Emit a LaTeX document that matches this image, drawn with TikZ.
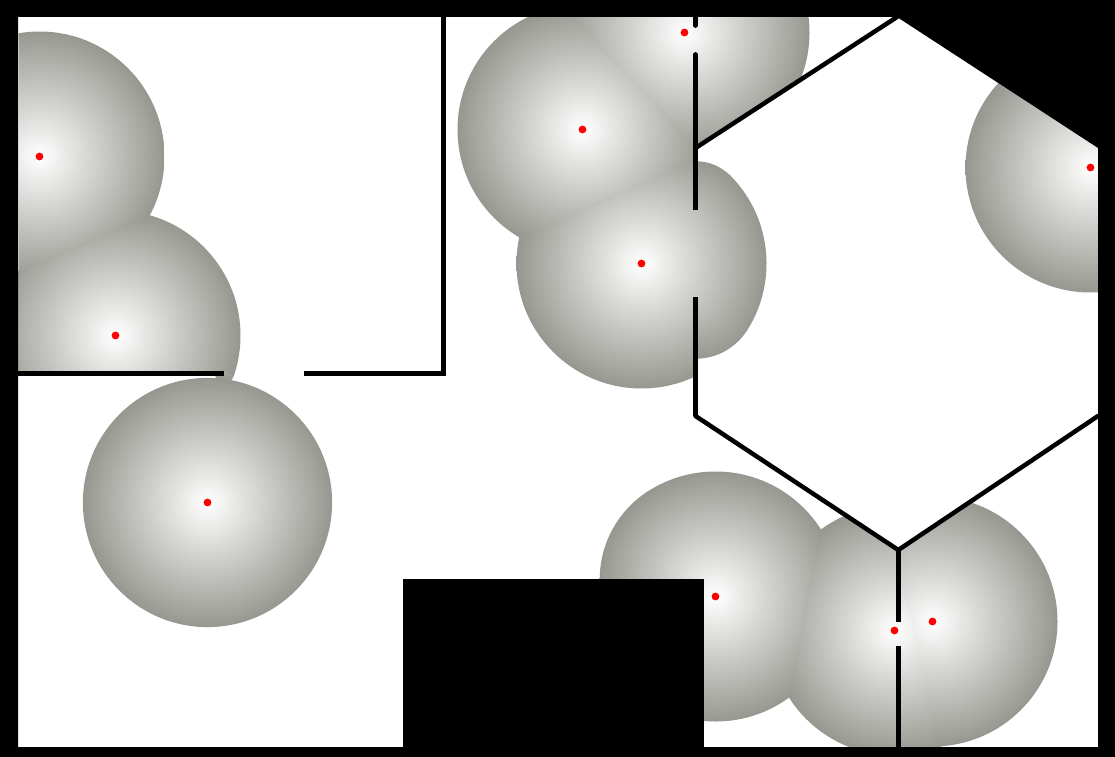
\documentclass[tikz,border=0pt]{standalone}
\definecolor{rimgray}{RGB}{150,152,144}
\definecolor{hotred}{RGB}{255,0,0}
% radial glow: colour depends on geodesic distance from the source (radius 125)
\newcommand{\defglow}[2]{\pgfdeclareradialshading{#1}{\pgfpointorigin}{color(0bp)=(rimgray!#2!white); color(25bp)=(rimgray); color(50bp)=(rimgray)}}
\defglow{glowzero}{0}
\defglow{glowa}{60.6}  % 75.7
\defglow{glowb}{51.0}  % 63.8
\defglow{glowc}{9.7}   % 12.1
\defglow{glowd}{19.0}  % 23.7
\defglow{glowe}{16.2}  % 20.2
\defglow{glowf}{7.2}   % 8.94
\defglow{glowg}{13.2}  % 16.5
\defglow{glowh}{92.3}  % 115.4
\newcommand{\glowpiece}[4]{\begin{scope}\clip #1 -- cycle;\shade[shading=#3] (#2) circle (#4);\end{scope}}
\tikzset{
  wall/.style={draw=black,line width=5bp,line cap=butt},
  thinwall/.style={draw=black,line width=4.5bp,line cap=round},
  roundwall/.style={draw=black,line width=5bp,line cap=round},
  reddot/.style={fill=hotred},
  solidblack/.style={fill=black}
}
\begin{document}
\begin{tikzpicture}[x=1bp,y=-1bp]
\useasboundingbox (0,0) rectangle (1115,757);
\fill[white] (0,0) rectangle (1115,757);
\begin{scope}[shift={(0.5,0.5)}]
% seed (39,156)
\glowpiece{(18,17)--(300,17)--(300,152.3)--(18,272)}{39,156}{glowzero}{125}
% seed (115,335)
\glowpiece{(18,270.5)--(300,150.8)--(300,399.5)--(224,373)--(18,373)}{115,335}{glowzero}{125}
\glowpiece{(224,373)--(240,378.6)--(240,390)--(210,390)--(210,373)}{224,373}{glowh}{9.6}
% seed (207,502)
\shade[shading=glowzero] (207,502) circle (124.6);
% seed (582,129)
\glowpiece{(400,0)--(558,0)--(695,143.9)--(695,161)--(400,291)}{582,129}{glowzero}{125}
% seed (684,32)
\glowpiece{(556.3,0)--(695,0)--(695,145.7)}{684,32}{glowzero}{125}
\glowpiece{(694.4,25.6)--(716.4,15)--(830,15)--(830,60.4)--(730.7,124.5)--(693.7,53.7)}{684,32}{glowzero}{125}
\glowpiece{(695,27)--(695,17)--(717,17)}{695,27}{glowc}{112.9}
\glowpiece{(695,53)--(732,123.8)--(695,148)}{695,53}{glowd}{101.3}
% seed (641,263)
\glowpiece{(400,289)--(695,159.2)--(694,209)--(799,106)--(800,106)--(800,365)--(799.2,364.3)--(694.2,298.3)--(695,420)--(400,420)}{641,263}{glowzero}{125}
\glowpiece{(695,210)--(695,100)--(800,100)--(800,107)}{695,210}{glowa}{49.3}
\glowpiece{(695,297)--(800,363)--(800,420)--(695,420)}{695,297}{glowb}{61.2}
% seed (715,596)
\glowpiece{(702.7,579.8)--(612.7,440.8)--(839,440)--(778.2,760)--(704,760)}{715,596}{glowzero}{125}
\glowpiece{(704,579)--(614,440)--(590,440)--(590,579)}{704,579}{glowe}{104.8}
% seed (894,630)
\glowpiece{(825.5,502)--(898,550)--(898,760)--(776.6,760)}{894,630}{glowzero}{125}
\glowpiece{(896.7,621.3)--(906.3,602.1)--(909,602.8)--(946.4,760)--(925,760.4)--(896.6,646.4)}{894,630}{glowzero}{125}
\glowpiece{(898,622)--(909,602.8)--(906.3,591.8)--(902.1,576.9)--(899.5,567)--(898,567)}{898,622}{glowf}{116}
\glowpiece{(898,646)--(926.5,760)--(898,760)}{898,646}{glowg}{108.5}
% seed (932,621)
\glowpiece{(898,550)--(1098,416)--(1098,760)--(944.9,760)--(907.6,602.8)--(904.8,591.8)--(900.6,576.9)--(898,567.9)}{932,621}{glowzero}{125}
% seed (1090,167)
\glowpiece{(897,17)--(1098,148)--(1098,416)--(898,416)}{1090,167}{glowzero}{125}
\end{scope}
% room walls
\draw[wall] (18,373.5) -- (224,373.5);
\draw[wall] (304,373.5) -- (445.5,373.5);
\draw[wall] (443,17) -- (443,376);
% hexagon walls
\draw[roundwall] (695.5,17) -- (695.5,25.4);
\draw[roundwall] (695.5,54.6) -- (695.5,70);
\draw[wall] (695.5,60) -- (695.5,210);
\draw[wall] (695.5,297) -- (695.5,416);
\draw[thinwall] (695.5,148) -- (897,17);
\draw[thinwall] (695.5,416) -- (898.3,550) -- (1098,416);
\draw[wall] (898.3,549) -- (898.3,622);
\draw[wall] (898.3,646) -- (898.3,747);
% solid black parts
\fill[solidblack] (897,17) -- (1098,17) -- (1098,148) -- cycle;
\fill[solidblack] (403,579) rectangle (704,747);
\fill[solidblack,even odd rule] (0,0) rectangle (1115,757) (18,17) rectangle (1098,747);
% sources
\begin{scope}[shift={(0.5,0.5)}]
\foreach \a/\b in {39/156,115/335,207/502,582/129,641/263,684/32,715/596,894/630,932/621,1090/167}{
  \fill[reddot] (\a,\b) circle (3.9);
}
\end{scope}
\end{tikzpicture}
\end{document}
